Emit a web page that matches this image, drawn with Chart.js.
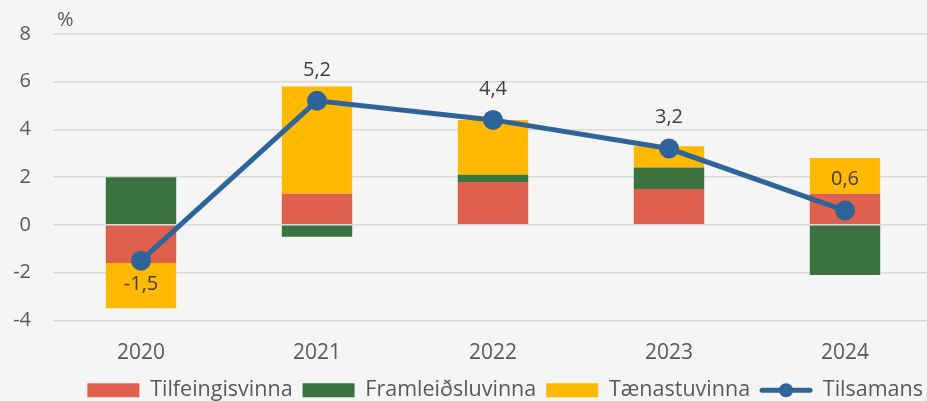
<!DOCTYPE html>
<html>
<head>
<meta charset="utf-8">
<script src="https://cdn.jsdelivr.net/npm/chart.js@4.4.1/dist/chart.umd.min.js"></script>
<style>
  html, body { margin: 0; padding: 0; background: #F5F5F5; overflow: hidden; }
  #wrap { width: 933px; height: 411px; }
</style>
</head>
<body>
<div id="wrap"><canvas id="chart"></canvas></div>
<script>
// Data
const years = ['2020', '2021', '2022', '2023', '2024'];
const tilfeingisvinna = [-1.6, 1.3, 1.8, 1.5, 1.3];
const framleidsluvinna = [2.0, -0.5, 0.3, 0.9, -2.1];
const taenastuvinna = [-1.9, 4.5, 2.3, 0.9, 1.5];
const tilsamans = [-1.5, 5.2, 4.4, 3.2, 0.6];
const yTicks = [-4, -2, 0, 2, 4, 6, 8];

const FONT = "'Open Sans', 'Noto Sans', sans-serif";
const LINE_COLOR = '#2E6499';
const LEGEND_SHIFT = 8;

function fmt(v) {
  return v.toFixed(1).replace('.', ',');
}

// Tighten the gap above the legend row
const legendFit = {
  id: 'legendFit',
  afterInit(chart) {
    const legend = chart.legend;
    const fit = legend.fit;
    const draw = legend.draw;
    legend.fit = function() {
      fit.call(this);
      this.height -= LEGEND_SHIFT;
    };
    legend.draw = function() {
      this.ctx.save();
      this.ctx.translate(0, -LEGEND_SHIFT);
      draw.call(this);
      this.ctx.restore();
    };
  }
};

// Value labels on the total line
const lineLabels = {
  id: 'lineLabels',
  afterDatasetsDraw(chart) {
    const meta = chart.getDatasetMeta(3);
    const ctx = chart.ctx;
    ctx.save();
    ctx.font = '20px ' + FONT;
    ctx.fillStyle = '#404040';
    ctx.textAlign = 'center';
    ctx.textBaseline = 'middle';
    meta.data.forEach((pt, i) => {
      const v = tilsamans[i];
      const y = v < 0 ? pt.y + 24 : pt.y - 31;
      ctx.fillText(fmt(v), pt.x, y);
    });
    ctx.restore();
  }
};

// "%" unit above the y axis + line marker in legend
const extras = {
  id: 'extras',
  afterDraw(chart) {
    const ctx = chart.ctx;
    ctx.save();
    ctx.font = '20px ' + FONT;
    ctx.fillStyle = '#595959';
    ctx.textAlign = 'left';
    ctx.textBaseline = 'middle';
    ctx.fillText('%', chart.chartArea.left + 4, 20);

    const legend = chart.legend;
    legend.legendItems.forEach((item, i) => {
      if (item.datasetIndex !== 3) return;
      const box = legend.legendHitBoxes[i];
      const w = legend.options.labels.boxWidth;
      const cy = box.top + box.height / 2 - LEGEND_SHIFT;
      ctx.strokeStyle = LINE_COLOR;
      ctx.lineWidth = 5;
      ctx.lineCap = 'round';
      ctx.beginPath();
      ctx.moveTo(box.left + 2, cy);
      ctx.lineTo(box.left + w - 2, cy);
      ctx.stroke();
      ctx.fillStyle = LINE_COLOR;
      ctx.beginPath();
      ctx.arc(box.left + w / 2, cy, 7, 0, Math.PI * 2);
      ctx.fill();
    });
    ctx.restore();
  }
};

const ctx = document.getElementById('chart').getContext('2d');
const chart = new Chart(ctx, {
  type: 'bar',
  data: {
    labels: years,
    datasets: [
      { label: 'Tilfeingisvinna', data: tilfeingisvinna, backgroundColor: '#E0604E', order: 1 },
      { label: 'Framleiðsluvinna', data: framleidsluvinna, backgroundColor: '#3B7340', order: 1 },
      { label: 'Tænastuvinna', data: taenastuvinna, backgroundColor: '#FFB900', order: 1 },
      {
        type: 'line',
        label: 'Tilsamans',
        data: tilsamans,
        stack: 'total',
        borderColor: LINE_COLOR,
        backgroundColor: LINE_COLOR,
        borderWidth: 5,
        pointRadius: 9,
        pointBorderWidth: 2,
        pointBackgroundColor: LINE_COLOR,
        pointBorderColor: LINE_COLOR,
        tension: 0,
        order: 0
      }
    ]
  },
  options: {
    responsive: true,
    maintainAspectRatio: false,
    animation: false,
    datasets: {
      bar: { categoryPercentage: 1, barPercentage: 0.4 }
    },
    layout: { autoPadding: false, padding: { top: 33, left: 8, right: 0, bottom: 0 } },
    scales: {
      x: {
        stacked: true,
        grid: { display: false },
        border: { display: false },
        ticks: { color: '#595959', font: { size: 21, family: FONT }, padding: 12 }
      },
      y: {
        stacked: true,
        min: -4,
        max: 8,
        afterBuildTicks: axis => { axis.ticks = yTicks.map(v => ({ value: v })); },
        afterFit: axis => { axis.width = 45; },
        grid: { color: '#D9D9D9', lineWidth: 1.5, drawTicks: false },
        border: { display: false },
        ticks: { color: '#595959', font: { size: 20, family: FONT }, padding: 22 }
      }
    },
    plugins: {
      tooltip: { enabled: false },
      legend: {
        position: 'bottom',
        align: 'end',
        labels: {
          boxWidth: 52,
          boxHeight: 14,
          padding: 10,
          color: '#595959',
          font: { size: 21.5, family: FONT },
          sort: (a, b) => a.datasetIndex - b.datasetIndex,
          generateLabels(chart) {
            return chart.data.datasets.map((ds, i) => ({
              text: ds.label,
              datasetIndex: i,
              fillStyle: ds.type === 'line' ? 'rgba(0,0,0,0)' : ds.backgroundColor,
              strokeStyle: 'rgba(0,0,0,0)',
              lineWidth: 0,
              fontColor: '#595959',
              hidden: false
            }));
          }
        }
      }
    }
  },
  plugins: [legendFit, lineLabels, extras]
});
</script>
</body>
</html>
